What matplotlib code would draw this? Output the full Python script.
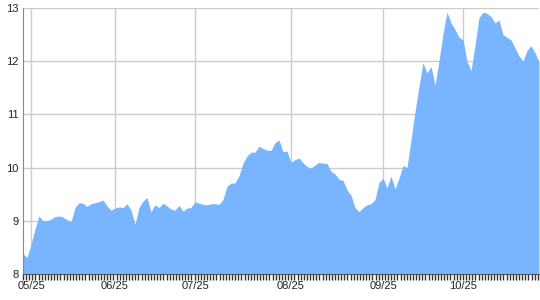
import numpy as np
import matplotlib
matplotlib.use("Agg")
import matplotlib.pyplot as plt
from matplotlib.ticker import MultipleLocator

# price series, one value per trading day
values = [
    8.38, 8.31, 8.55, 8.85, 9.09, 9.00, 9.00, 9.03, 9.08, 9.09,
    9.07, 9.02, 8.98, 9.25, 9.34, 9.33, 9.27, 9.32, 9.34, 9.36,
    9.39, 9.28, 9.20, 9.24, 9.26, 9.25, 9.32, 9.20, 8.93, 9.25,
    9.37, 9.44, 9.17, 9.30, 9.25, 9.33, 9.28, 9.22, 9.20, 9.29,
    9.18, 9.24, 9.25, 9.36, 9.33, 9.31, 9.30, 9.32, 9.32, 9.31,
    9.40, 9.65, 9.71, 9.71, 9.85, 10.08, 10.22, 10.29, 10.29, 10.40,
    10.36, 10.33, 10.32, 10.47, 10.52, 10.30, 10.31, 10.10, 10.15, 10.18,
    10.09, 10.02, 9.99, 10.05, 10.10, 10.08, 10.08, 9.93, 9.88, 9.78,
    9.76, 9.58, 9.48, 9.25, 9.17, 9.25, 9.30, 9.32, 9.40, 9.72,
    9.80, 9.62, 9.84, 9.60, 9.80, 10.04, 10.00, 10.52, 11.05, 11.52,
    11.97, 11.78, 11.90, 11.55, 12.00, 12.52, 12.92, 12.72, 12.60, 12.45,
    12.40, 12.00, 11.82, 12.30, 12.82, 12.92, 12.90, 12.84, 12.72, 12.77,
    12.50, 12.45, 12.40, 12.25, 12.10, 12.00, 12.20, 12.29, 12.16, 11.99,
]
month_pos = [2, 23, 43, 67, 90, 110]
month_labels = ["05/25", "06/25", "07/25", "08/25", "09/25", "10/25"]
y_ticks = [8, 9, 10, 11, 12, 13]

plt.rcParams["font.family"] = ["Liberation Sans", "DejaVu Sans"]

x = np.arange(len(values))
fig = plt.figure(figsize=(5.4, 3.0), dpi=100)
ax = fig.add_axes([23 / 540, 26 / 300, 516 / 540, 266 / 300])

ax.fill_between(x, values, 8, color="#78b4ff", linewidth=0, zorder=2)

ax.set_xlim(0, len(values) - 1)
ax.set_ylim(8, 13)
ax.set_axisbelow(True)
ax.grid(True, color="#cccccc", linewidth=1)

ax.set_xticks(month_pos, month_labels)
ax.set_yticks(y_ticks, [str(v) for v in y_ticks])
ax.xaxis.set_minor_locator(MultipleLocator(0.78))
ax.tick_params(axis="x", which="major", length=0, pad=5, labelsize=8, labelcolor="#222222")
ax.tick_params(axis="x", which="minor", length=4, width=1, color="#333333", direction="out")
ax.tick_params(axis="y", length=0, pad=3, labelsize=8, labelcolor="#222222")

for s in ["top", "right"]:
    ax.spines[s].set_visible(False)
ax.spines["left"].set_color("#888888")
ax.spines["bottom"].set_color("#555555")

fig.savefig("out.png", dpi=100)
